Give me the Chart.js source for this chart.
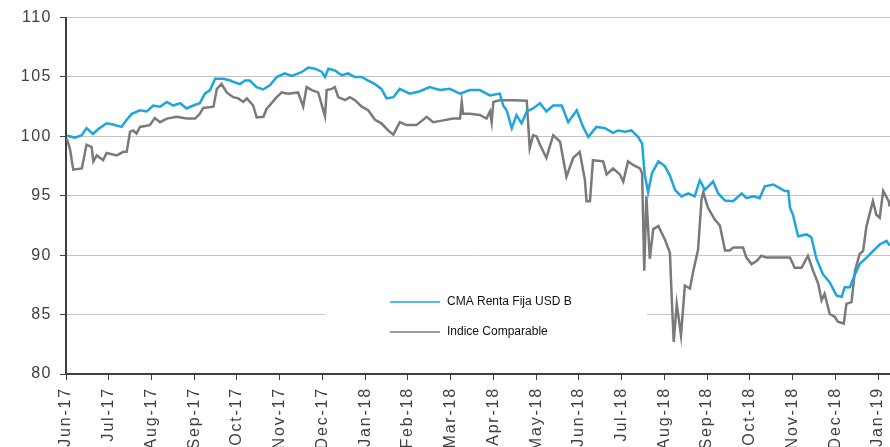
<!DOCTYPE html>
<html>
<head>
<meta charset="utf-8">
<script src="https://cdn.jsdelivr.net/npm/chart.js@4.4.1/dist/chart.umd.min.js"></script>
<style>
  html, body { margin: 0; padding: 0; background: #fff; overflow: hidden; }
  #wrap { width: 890px; height: 447px; position: relative; }
</style>
</head>
<body>
<div id="wrap"><canvas id="chart"></canvas></div>
<script>
// eje x: meses desde Jun-17 (0 = Jun-17)
const monthLabels = ['Jun-17', 'Jul-17', 'Aug-17', 'Sep-17', 'Oct-17', 'Nov-17', 'Dec-17',
    'Jan-18', 'Feb-18', 'Mar-18', 'Apr-18', 'May-18', 'Jun-18', 'Jul-18', 'Aug-18',
    'Sep-18', 'Oct-18', 'Nov-18', 'Dec-18', 'Jan-19'];

const yTicks = [80, 85, 90, 95, 100, 105, 110];

// CMA Renta Fija USD B
const cmaMonths = [0.02, 0.21, 0.37, 0.48, 0.63, 0.75, 0.95, 1.10, 1.30, 1.42,
    1.54, 1.73, 1.89, 2.04, 2.20, 2.36, 2.51, 2.67, 2.82, 2.98,
    3.13, 3.25, 3.37, 3.49, 3.68, 3.84, 3.91, 4.07, 4.19, 4.30,
    4.46, 4.61, 4.77, 4.93, 5.12, 5.28, 5.51, 5.67, 5.82, 5.98,
    6.06, 6.14, 6.29, 6.45, 6.60, 6.76, 6.92, 7.07, 7.23, 7.38,
    7.50, 7.66, 7.81, 8.04, 8.28, 8.51, 8.75, 8.98, 9.22, 9.45,
    9.68, 9.92, 10.15, 10.23, 10.31, 10.43, 10.54, 10.66, 10.78, 10.93,
    11.09, 11.24, 11.40, 11.60, 11.75, 11.95, 12.10, 12.22, 12.41, 12.61,
    12.80, 12.92, 13.08, 13.23, 13.39, 13.48, 13.54, 13.62, 13.71, 13.86,
    14.01, 14.13, 14.25, 14.40, 14.56, 14.71, 14.83, 14.95, 15.14, 15.26,
    15.42, 15.61, 15.81, 15.92, 16.08, 16.23, 16.35, 16.55, 16.70, 16.82,
    16.90, 16.94, 17.01, 17.13, 17.33, 17.44, 17.56, 17.71, 17.87, 18.03,
    18.15, 18.22, 18.34, 18.46, 18.57, 18.73, 18.88, 19.04, 19.20, 19.27];
const cmaValues = [100.05, 99.9, 100.1, 100.7, 100.2, 100.6, 101.1, 101.0, 100.8, 101.4,
    101.9, 102.2, 102.1, 102.6, 102.5, 102.9, 102.6, 102.8, 102.35, 102.6,
    102.8, 103.6, 103.9, 104.85, 104.85, 104.7, 104.6, 104.4, 104.7, 104.7,
    104.15, 103.95, 104.3, 105.0, 105.3, 105.1, 105.4, 105.8, 105.7, 105.45,
    105.0, 105.7, 105.55, 105.15, 105.3, 105.0, 105.0, 104.7, 104.4, 104.0,
    103.2, 103.3, 104.0, 103.6, 103.8, 104.15, 103.9, 104.0, 103.6, 103.9,
    103.9, 103.45, 103.6, 102.6, 102.2, 100.7, 101.8, 101.1, 102.1, 102.35,
    102.8, 102.1, 102.6, 102.6, 101.2, 102.2, 100.8, 99.95, 100.8, 100.7,
    100.3, 100.5, 100.4, 100.5, 99.95, 99.4, 96.8, 95.3, 96.9, 97.9,
    97.5, 96.7, 95.5, 94.95, 95.2, 94.95, 96.3, 95.5, 96.2, 95.2,
    94.6, 94.55, 95.2, 94.8, 94.95, 94.8, 95.8, 95.95, 95.65, 95.4,
    95.4, 94.0, 93.4, 91.6, 91.75, 91.5, 89.7, 88.4, 87.7, 86.6,
    86.5, 87.3, 87.3, 88.4, 89.25, 89.8, 90.35, 90.9, 91.2, 90.8];

// Indice Comparable
const idxMonths = [0.02, 0.09, 0.17, 0.37, 0.48, 0.60, 0.64, 0.72, 0.87, 0.95,
    1.19, 1.34, 1.42, 1.50, 1.57, 1.65, 1.73, 1.96, 2.08, 2.20,
    2.36, 2.59, 2.82, 3.02, 3.13, 3.21, 3.45, 3.53, 3.64, 3.76,
    3.91, 4.03, 4.15, 4.23, 4.38, 4.46, 4.62, 4.69, 4.81, 4.93,
    5.05, 5.20, 5.43, 5.55, 5.63, 5.75, 5.90, 6.06, 6.10, 6.22,
    6.29, 6.37, 6.53, 6.64, 6.76, 6.92, 7.07, 7.23, 7.38, 7.54,
    7.66, 7.81, 7.97, 8.20, 8.44, 8.59, 8.83, 9.06, 9.22, 9.26,
    9.29, 9.45, 9.68, 9.84, 9.92, 9.96, 10.00, 10.15, 10.46, 10.78,
    10.85, 10.93, 11.01, 11.09, 11.24, 11.40, 11.56, 11.71, 11.87, 12.02,
    12.14, 12.18, 12.26, 12.33, 12.57, 12.65, 12.80, 12.96, 13.04, 13.15,
    13.27, 13.43, 13.48, 13.53, 13.58, 13.66, 13.74, 13.86, 14.01, 14.13,
    14.18, 14.22, 14.29, 14.39, 14.48, 14.60, 14.67, 14.79, 14.87, 14.91,
    15.02, 15.18, 15.30, 15.42, 15.53, 15.61, 15.84, 15.92, 16.04, 16.16,
    16.27, 16.39, 16.94, 17.05, 17.21, 17.36, 17.48, 17.60, 17.68, 17.75,
    17.87, 17.99, 18.06, 18.20, 18.26, 18.38, 18.46, 18.57, 18.65, 18.73,
    18.88, 18.96, 19.04, 19.12, 19.25, 19.27];
const idxValues = [99.8, 99.0, 97.2, 97.3, 99.3, 99.1, 97.9, 98.4, 98.0, 98.6,
    98.4, 98.7, 98.7, 100.4, 100.5, 100.25, 100.8, 100.95, 101.55, 101.2,
    101.5, 101.65, 101.5, 101.5, 101.9, 102.4, 102.5, 104.0, 104.4, 103.7,
    103.3, 103.2, 102.9, 103.2, 102.6, 101.6, 101.65, 102.3, 102.8, 103.3,
    103.7, 103.6, 103.7, 102.5, 104.15, 103.9, 103.7, 101.7, 103.9, 104.0,
    104.15, 103.3, 103.05, 103.3, 103.05, 102.5, 102.2, 101.4, 101.1, 100.5,
    100.15, 101.2, 100.95, 100.95, 101.65, 101.2, 101.35, 101.5, 101.5, 102.9,
    101.9, 101.9, 101.8, 101.5, 102.1, 101.2, 102.9, 103.05, 103.05, 103.0,
    99.0, 100.1, 100.0, 99.3, 98.2, 100.1, 99.55, 96.6, 98.2, 98.7,
    96.35, 94.55, 94.55, 98.0, 97.9, 96.8, 97.3, 96.8, 96.2, 97.9,
    97.6, 97.3, 96.9, 88.7, 94.95, 89.7, 92.2, 92.45, 91.35, 90.2,
    85.8, 82.7, 85.9, 83.25, 87.45, 87.2, 88.55, 90.5, 94.7, 95.3,
    94.0, 93.0, 92.5, 90.4, 90.4, 90.65, 90.65, 89.8, 89.25, 89.5,
    89.95, 89.8, 89.8, 88.95, 88.95, 89.95, 88.7, 87.6, 86.2, 86.75,
    85.05, 84.8, 84.4, 84.25, 85.9, 86.05, 88.7, 90.1, 90.35, 92.45,
    94.55, 93.4, 93.15, 95.4, 94.55, 94.1];

const toPoints = (xs, ys) => xs.map((x, i) => ({ x: x, y: ys[i] }));

const axisFont = { family: '"Liberation Sans", Arial, sans-serif', size: 16 };

// espaciado de letras como en el original
const spacing = {
    id: 'spacing',
    beforeLayout(chart) { chart.ctx.letterSpacing = '1.5px'; },
    beforeDraw(chart) { chart.ctx.letterSpacing = '1.5px'; }
};

// las etiquetas de meses van algo mas espaciadas
function widenLabels(scale) {
    if (scale._widened) return;
    scale._widened = true;
    const orig = scale.drawLabels;
    scale.drawLabels = function (area) {
        const prev = this.ctx.letterSpacing;
        this.ctx.letterSpacing = '1.8px';
        orig.call(this, area);
        this.ctx.letterSpacing = prev;
    };
}

// leyenda dentro del grafico, sobre fondo blanco
const insideLegend = {
    id: 'insideLegend',
    beforeDatasetsDraw(chart) {
        const ctx = chart.ctx;
        ctx.save();
        ctx.letterSpacing = '0px';
        ctx.fillStyle = '#fff';
        ctx.fillRect(325, 264, 322, 86);
        chart.data.datasets.forEach((ds, i) => {
            const y = 302 + i * 30;
            ctx.strokeStyle = ds.borderColor;
            ctx.lineWidth = 1.5;
            ctx.beginPath();
            ctx.moveTo(390, y);
            ctx.lineTo(440, y);
            ctx.stroke();
            ctx.fillStyle = '#111';
            ctx.font = '12px "Liberation Sans", Arial, sans-serif';
            ctx.textBaseline = 'middle';
            ctx.fillText(ds.label, 447, y);
        });
        ctx.restore();
    }
};

new Chart(document.getElementById('chart'), {
    type: 'line',
    data: {
        datasets: [
            {
                label: 'CMA Renta Fija USD B',
                data: toPoints(cmaMonths, cmaValues),
                borderColor: '#1ea6dc',
                borderWidth: 2.5,
                pointRadius: 0,
                tension: 0,
                fill: false
            },
            {
                label: 'Indice Comparable',
                data: toPoints(idxMonths, idxValues),
                borderColor: '#7a7a7a',
                borderWidth: 2.5,
                pointRadius: 0,
                tension: 0,
                fill: false
            }
        ]
    },
    options: {
        responsive: true,
        maintainAspectRatio: false,
        animation: false,
        layout: { padding: { top: 15, right: 0, bottom: 0, left: 0 } },
        plugins: {
            legend: { display: false },
            tooltip: { enabled: false }
        },
        scales: {
            x: {
                type: 'linear',
                min: 0,
                max: 19.28,
                afterBuildTicks: s => { s.ticks = monthLabels.map((_, i) => ({ value: i })); },
                afterFit: s => {
                    s.height = 73;
                    s.paddingLeft = 0;
                    s.paddingRight = 0;
                    widenLabels(s);
                },
                ticks: {
                    autoSkip: false,
                    minRotation: 90,
                    maxRotation: 90,
                    padding: 7,
                    color: '#404040',
                    font: axisFont,
                    callback: v => monthLabels[v]
                },
                grid: { drawOnChartArea: false, tickLength: 6, tickColor: '#404040' },
                border: { color: '#404040', width: 2 }
            },
            y: {
                min: yTicks[0],
                max: yTicks[yTicks.length - 1],
                afterBuildTicks: s => { s.ticks = yTicks.map(v => ({ value: v })); },
                afterFit: s => { s.width = 66; },
                ticks: { padding: 8, color: '#404040', font: axisFont },
                grid: { color: '#c4c4c4', lineWidth: 1, tickLength: 6, tickColor: '#404040' },
                border: { color: '#404040', width: 2 }
            }
        }
    },
    plugins: [spacing, insideLegend]
});
</script>
</body>
</html>
